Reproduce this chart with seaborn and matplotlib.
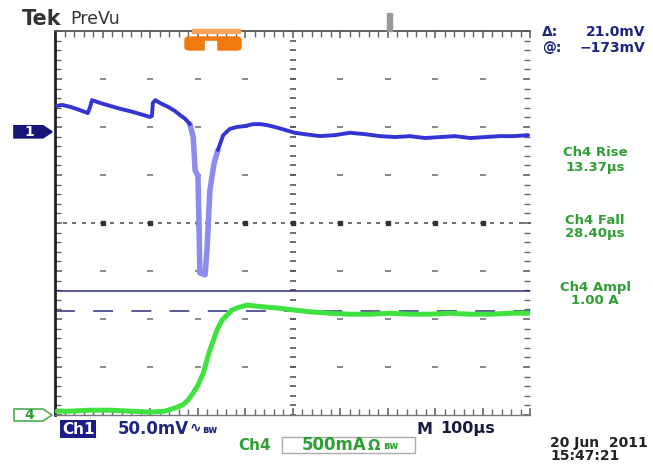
import numpy as np
import pandas as pd
import matplotlib
matplotlib.use("Agg")
import matplotlib.pyplot as plt
import matplotlib.patches as mpatches
import seaborn as sns

# ---- data (time in microseconds, amplitude in screen divisions) ----
ch1_t = [4, 15, 32, 53, 69, 74, 78, 95, 116, 137, 158, 179, 200, 204, 206, 211, 221, 238,
         253, 263, 274, 284, 291, 295, 301, 303, 305, 316, 320, 322, 326, 331, 335, 343,
         354, 368, 383, 400, 417, 432, 446, 463, 484, 505, 526, 558, 589, 621, 653, 684,
         716, 747, 779, 811, 842, 874, 905, 937, 968, 996]
ch1_v = [2.44, 2.46, 2.42, 2.35, 2.29, 2.42, 2.56, 2.50, 2.44, 2.38, 2.33, 2.27, 2.21, 2.23,
         2.50, 2.56, 2.50, 2.42, 2.33, 2.25, 2.17, 2.06, 1.79, 1.10, 0.98, 0.06, -1.04, -1.08,
         -0.56, -0.15, 0.67, 1.00, 1.25, 1.52, 1.83, 1.96, 2.00, 2.02, 2.06, 2.06, 2.04, 2.00,
         1.94, 1.88, 1.85, 1.81, 1.83, 1.88, 1.85, 1.81, 1.79, 1.81, 1.77, 1.79, 1.81, 1.77,
         1.79, 1.81, 1.81, 1.83]
ch4_t = [4, 32, 74, 116, 158, 200, 232, 253, 269, 280, 291, 301, 312, 320, 326, 335, 341,
         352, 362, 373, 383, 404, 421, 442, 467, 501, 537, 579, 621, 663, 705, 747, 789, 832,
         874, 916, 958, 996]
ch4_v = [-3.92, -3.92, -3.90, -3.90, -3.92, -3.94, -3.92, -3.85, -3.79, -3.69, -3.54, -3.38,
         -3.13, -2.85, -2.65, -2.40, -2.23, -2.02, -1.92, -1.81, -1.77, -1.71, -1.73, -1.75,
         -1.77, -1.81, -1.85, -1.88, -1.90, -1.90, -1.88, -1.90, -1.90, -1.88, -1.90, -1.90,
         -1.88, -1.88]
cursor_a = -1.42
cursor_b = -1.83
ch1_ground = 1.9
ch4_ground = -4.0
spike_window = (284, 343)

W, H = 653, 467
sns.set_style("white")
plt.rcParams['font.family'] = ['DejaVu Sans']

fig = plt.figure(figsize=(W / 100, H / 100), dpi=100)
ax = fig.add_axes([55 / W, 52 / H, 475 / W, 384 / H])
ax.set_xlim(0, 1000)
ax.set_ylim(-4, 4)


def fx(x):
    return x / W


def fy(y):
    return 1 - y / H


# traces
df1 = pd.DataFrame({"t": ch1_t, "v": ch1_v})
df4 = pd.DataFrame({"t": ch4_t, "v": ch4_v})
in_spike = (df1.t >= spike_window[0]) & (df1.t <= spike_window[1])
pre = df1[df1.t <= spike_window[0]]
post = df1[df1.t >= spike_window[1]]
spike = df1[in_spike]
sns.lineplot(data=spike, x="t", y="v", ax=ax, sort=False, estimator=None,
             color="#8c8cf0", lw=4.0, zorder=2)
sns.lineplot(data=pre, x="t", y="v", ax=ax, sort=False, estimator=None,
             color="#3434d4", lw=2.8, zorder=3)
sns.lineplot(data=post, x="t", y="v", ax=ax, sort=False, estimator=None,
             color="#3434d4", lw=2.8, zorder=3)
sns.lineplot(data=df4, x="t", y="v", ax=ax, sort=False, estimator=None,
             color="#3fe23f", lw=3.6, zorder=3)

# cursors
ax.axhline(cursor_a, color="#2c2c7a", lw=1.1, zorder=2)
ax.axhline(cursor_b, color="#2c2c7a", lw=1.1, dashes=(13, 12), zorder=2)

# graticule
xs_major = np.arange(100, 1000, 100)
ys_major = np.arange(-3, 4, 1)
gx, gy = np.meshgrid(xs_major, ys_major)
ax.plot(gx.ravel(), gy.ravel(), ls="none", marker="_", ms=4, mew=1.2, color="#777777", zorder=1)
xs_minor = np.arange(0, 1001, 20)
ys_minor = np.arange(-4, 4.01, 0.2)
ax.plot(xs_minor, np.zeros_like(xs_minor, dtype=float), ls="none", marker="_", ms=3.5, mew=1.2,
        color="#555555", zorder=1)
ax.plot(np.full_like(ys_minor, 500), ys_minor, ls="none", marker="_", ms=4, mew=1.2,
        color="#555555", zorder=1)
ax.plot(xs_major, np.zeros_like(xs_major, dtype=float), ls="none", marker="s", ms=3,
        color="#333333", zorder=1)

ax.set_xticks(np.arange(0, 1001, 100))
ax.set_xticks(np.arange(0, 1001, 20), minor=True)
ax.set_yticks(np.arange(-4, 5, 1))
ax.set_yticks(np.arange(-4, 4.01, 0.2), minor=True)
ax.tick_params(which="both", direction="in", left=True, right=True, top=True, bottom=True,
               labelleft=False, labelbottom=False, color="#666666")
ax.tick_params(which="major", length=5, width=1.2)
ax.tick_params(which="minor", length=4, width=1.0)
ax.spines["left"].set_color("#222222")
ax.spines["left"].set_linewidth(2)
ax.spines["top"].set_color("#555555")
ax.spines["top"].set_linewidth(1.3)
ax.spines["bottom"].set_color("#777777")
ax.spines["bottom"].set_linewidth(1.0)
ax.spines["right"].set_visible(False)
ax.set_xlabel("")
ax.set_ylabel("")

# header
fig.text(fx(22), fy(19), "Tek", fontsize=15, fontweight="bold", color="#333333", va="center")
fig.text(fx(70), fy(19), "PreVu", fontsize=12.5, color="#333333", va="center")

navy = "#1d2580"
fig.text(fx(542), fy(32), "Δ:", fontsize=10, fontweight="bold", color=navy, va="center")
fig.text(fx(645), fy(32), "21.0mV", fontsize=10, fontweight="bold", color=navy, va="center", ha="right")
fig.text(fx(542), fy(48), "@:", fontsize=10, fontweight="bold", color=navy, va="center")
fig.text(fx(645), fy(48), "\u2212173mV", fontsize=10, fontweight="bold", color=navy, va="center", ha="right")

green = "#2f9e33"
for label, y in [("Ch4 Rise", 153), ("13.37µs", 167), ("Ch4 Fall", 221), ("28.40µs", 234),
                 ("Ch4 Ampl", 288), ("1.00 A", 301)]:
    fig.text(fx(595), fy(y), label, fontsize=9.5, fontweight="bold", color=green,
             va="center", ha="center")

# trigger / position markers
fig.patches.append(mpatches.FancyBboxPatch((fx(185), fy(50)), fx(56), 13 / H,
                                           boxstyle="round,pad=0,rounding_size=0.006",
                                           transform=fig.transFigure, color="#f07a10", zorder=5))
fig.patches.append(mpatches.Rectangle((fx(205), fy(51)), fx(11), 10 / H,
                                      transform=fig.transFigure, color="white", zorder=6))
fig.patches.append(mpatches.Rectangle((fx(192), fy(33)), fx(48), 4 / H,
                                      transform=fig.transFigure, color="#f5a55a", zorder=5))
fig.patches.append(mpatches.Rectangle((fx(387), fy(31)), fx(5), 18 / H,
                                      transform=fig.transFigure, color="#999999", zorder=5))


def ground_marker(level, face, edge, txt, txtcolor):
    _, ypix = ax.transData.transform((0, level))
    yc = ypix / H
    h = 12 / H
    pts = [(fx(14), yc - h / 2), (fx(43), yc - h / 2), (fx(52), yc), (fx(43), yc + h / 2),
           (fx(14), yc + h / 2)]
    fig.patches.append(mpatches.Polygon(pts, closed=True, transform=fig.transFigure,
                                        facecolor=face, edgecolor=edge, lw=1.2, zorder=5))
    fig.text(fx(29), yc, txt, fontsize=10, fontweight="bold", color=txtcolor,
             va="center", ha="center", zorder=6)


fig.canvas.draw()
ground_marker(ch1_ground, "#16167a", "#16167a", "1", "white")
ground_marker(ch4_ground, "white", "#4caf50", "4", "#2f9e33")

# bottom readouts
fig.text(fx(62), fy(429), "Ch1", fontsize=11, fontweight="bold", color="white", va="center",
         bbox=dict(boxstyle="square,pad=0.1", fc="#1c1c86", ec="none"))
fig.text(fx(118), fy(429), "50.0mV", fontsize=12, fontweight="bold", color=navy, va="center")
fig.text(fx(190), fy(428), "\u223f", fontsize=10, fontweight="bold", color=navy, va="center")
fig.text(fx(202), fy(430), "ʙw", fontsize=7, fontweight="bold", color=navy, va="center")
fig.text(fx(417), fy(429), "M", fontsize=11.5, fontweight="bold", color="#1a1a40", va="center")
fig.text(fx(440), fy(429), "100µs", fontsize=11.5, fontweight="bold", color="#1a1a40", va="center")
fig.text(fx(238), fy(445), "Ch4", fontsize=11, fontweight="bold", color=green, va="center")
fig.patches.append(mpatches.Rectangle((fx(282), fy(453)), fx(133), 16 / H,
                                      transform=fig.transFigure, fill=False, ec="#aaaaaa", lw=1))
fig.text(fx(302), fy(445), "500mA", fontsize=12, fontweight="bold", color=green, va="center")
fig.text(fx(368), fy(445), "\u2126", fontsize=10.5, fontweight="bold", color=green, va="center")
fig.text(fx(383), fy(446), "ʙw", fontsize=7, fontweight="bold", color=green, va="center")
fig.text(fx(550), fy(443), "20 Jun  2011", fontsize=10, fontweight="bold", color="#222222", va="center")
fig.text(fx(550), fy(456), "15:47:21", fontsize=10, fontweight="bold", color="#222222", va="center")

fig.savefig("out.png", dpi=100)
